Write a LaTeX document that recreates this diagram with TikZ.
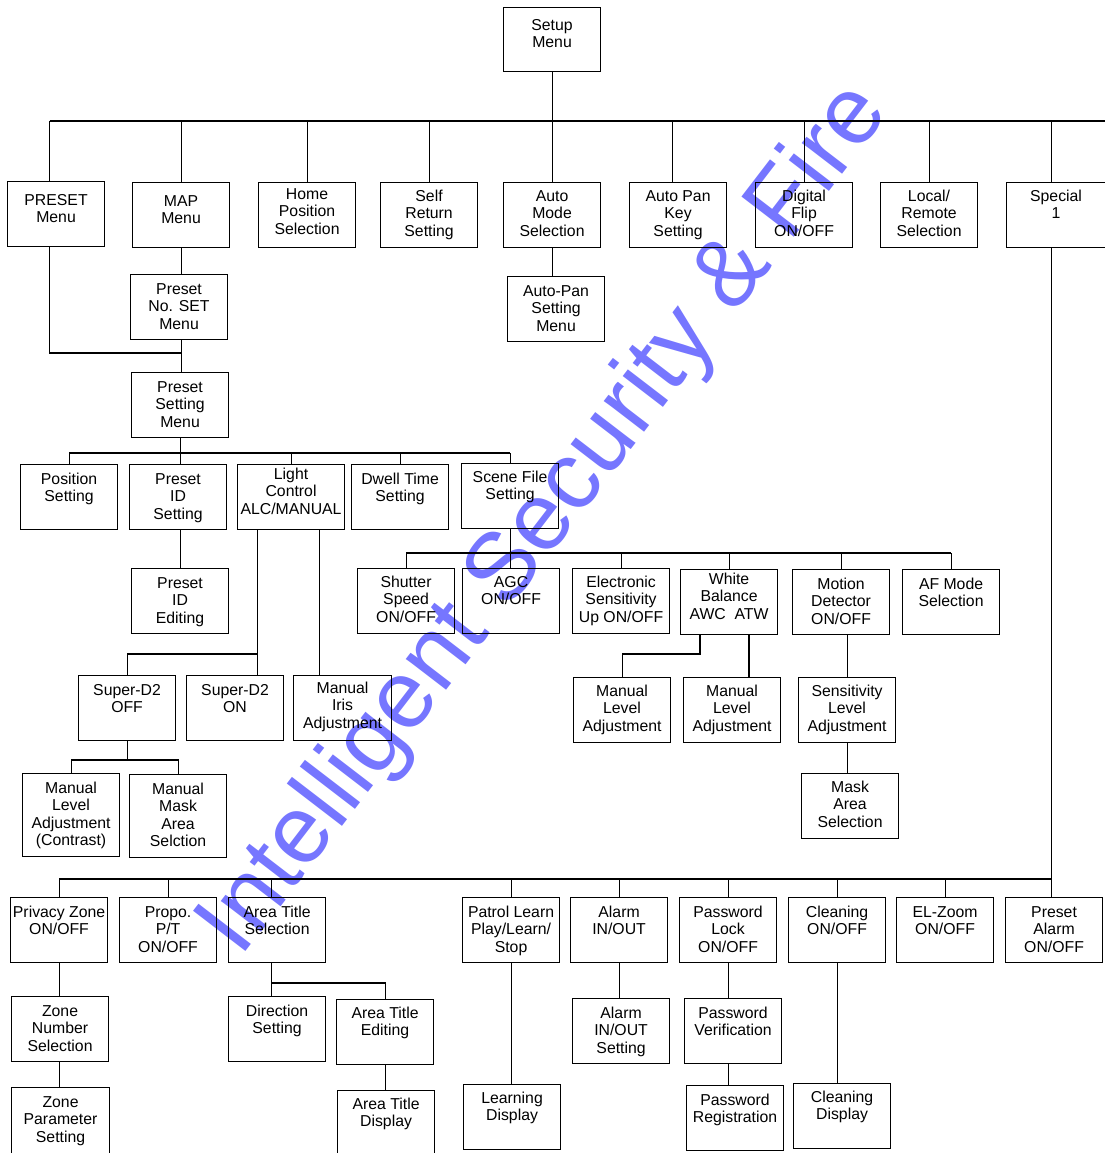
\documentclass[tikz,border=0pt]{standalone}
\usepackage{fontspec}
\setmainfont{Liberation Sans}
\definecolor{markblue}{RGB}{118,118,255}
\begin{document}
\begin{tikzpicture}[x=1pt, y=-1pt,
    menu/.style={draw, line width=1.1pt, align=center, anchor=north west,
      inner xsep=1pt, inner ysep=0pt, minimum width=97pt,
      font=\fontsize{15.8pt}{17.5pt}\selectfont},
    two/.style={text height=37pt, text depth=28pt},
    three/.style={text height=54.5pt, text depth=10.5pt},
    hitwo/.style={text height=36pt, text depth=29pt},
    hithree/.style={text height=53.5pt, text depth=11.5pt},
    link/.style={line width=1.1pt}]
  \useasboundingbox (0,0) rectangle (1104,1153);
  \node[rotate=52.5, text=markblue, font=\fontsize{96pt}{96pt}\selectfont] (mark) at (546,520) {Intelligent Security \& Fire};

  \node[menu, text height=40pt, text depth=24pt] (setup) at (503,7) {Setup\\Menu};
  \node[menu, text height=41pt, text depth=24pt] (preset) at (7,181) {PRESET\\Menu};
  \node[menu, text height=41pt, text depth=24pt] (map) at (132,182) {MAP\\Menu};
  \node[menu, text height=51.5pt, text depth=13.5pt] (home) at (258,182) {Home\\Position\\Selection};
  \node[menu, hithree] (selfret) at (380,182) {Self\\Return\\Setting};
  \node[menu, hithree] (automode) at (503,182) {Auto\\Mode\\Selection};
  \node[menu, hithree] (autopan) at (629,182) {Auto Pan\\Key\\Setting};
  \node[menu, hithree] (dflip) at (755,182) {Digital\\Flip\\ON/OFF};
  \node[menu, hithree] (local) at (880,182) {Local/\\Remote\\Selection};
  \node[menu, hitwo, minimum width=99pt] (special) at (1006,182) {Special\\1};

  \node[menu, three] (presetno) at (130,274) {Preset\\No. SET\\Menu};
  \node[menu, three] (autopanset) at (507,276) {Auto-Pan\\Setting\\Menu};
  \node[menu, three] (presetset) at (131,372) {Preset\\Setting\\Menu};

  \node[menu, two] (position) at (20,464) {Position\\Setting};
  \node[menu, three] (presetid) at (129,464) {Preset\\ID\\Setting};
  \node[menu, minimum width=107pt, text height=49.5pt, text depth=15.5pt] (light) at (237,464) {Light\\Control\\ALC/MANUAL};
  \node[menu, two] (dwell) at (351,464) {Dwell Time\\Setting};
  \node[menu, hitwo] (scene) at (461,463) {Scene File\\Setting};
  \node[menu, three] (presetided) at (131,568) {Preset\\ID\\Editing};

  \node[menu, hithree] (shutter) at (357,568) {Shutter\\Speed\\ON/OFF};
  \node[menu, hitwo] (agc) at (462,568) {AGC\\ON/OFF};
  \node[menu, hithree] (elec) at (572,568) {Electronic\\Sensitivity\\Up ON/OFF};
  \node[menu, text height=49.5pt, text depth=15.5pt] (white) at (680,569) {White\\Balance\\AWC\ \ ATW};
  \node[menu, three] (motion) at (792,569) {Motion\\Detector\\ON/OFF};
  \node[menu, two] (afmode) at (902,569) {AF Mode\\Selection};

  \node[menu, two] (sdoff) at (78,675) {Super-D2\\OFF};
  \node[menu, two] (sdon) at (186,675) {Super-D2\\ON};
  \node[menu, minimum width=98pt, text height=52.5pt, text depth=12.5pt] (iris) at (293,675) {Manual\\Iris\\Adjustment};
  \node[menu, hithree] (wbman1) at (573,677) {Manual\\Level\\Adjustment};
  \node[menu, hithree] (wbman2) at (683,677) {Manual\\Level\\Adjustment};
  \node[menu, hithree] (sens) at (798,677) {Sensitivity\\Level\\Adjustment};
  \node[menu, hithree] (mask) at (801,773) {Mask\\Area\\Selection};
  \node[menu, text height=72pt, text depth=11pt] (contrast) at (22,773) {Manual\\Level\\Adjustment\\(Contrast)};
  \node[menu, text height=72pt, text depth=11pt] (manmask) at (129,774) {Manual\\Mask\\Area\\Selction};

  \node[menu, two] (privacy) at (10,897) {Privacy Zone\\ON/OFF};
  \node[menu, three] (propo) at (119,897) {Propo.\\P/T\\ON/OFF};
  \node[menu, two] (areasel) at (228,897) {Area Title\\Selection};
  \node[menu, three] (patrol) at (462,897) {Patrol Learn\\Play/Learn/\\Stop};
  \node[menu, two] (alarm) at (570,897) {Alarm\\IN/OUT};
  \node[menu, three] (pwlock) at (679,897) {Password\\Lock\\ON/OFF};
  \node[menu, two] (cleaning) at (788,897) {Cleaning\\ON/OFF};
  \node[menu, two] (elzoom) at (896,897) {EL-Zoom\\ON/OFF};
  \node[menu, three] (presetalarm) at (1005,897) {Preset\\Alarm\\ON/OFF};

  \node[menu, three] (zonenum) at (11,996) {Zone\\Number\\Selection};
  \node[menu, minimum width=98pt, text height=54.5pt, text depth=20.5pt] (zoneparam) at (11,1087) {Zone\\Parameter\\Setting};
  \node[menu, two] (direction) at (228,996) {Direction\\Setting};
  \node[menu, hitwo] (areaedit) at (336,999) {Area Title\\Editing};
  \node[menu, text height=36pt, text depth=39pt] (areadisp) at (337,1090) {Area Title\\Display};
  \node[menu, hitwo] (learning) at (463,1084) {Learning\\Display};
  \node[menu, three] (alarmset) at (572,998) {Alarm\\IN/OUT\\Setting};
  \node[menu, two] (pwverif) at (684,998) {Password\\Verification};
  \node[menu, two] (pwreg) at (686,1085) {Password\\Registration};
  \node[menu, hitwo] (cleandisp) at (793,1083) {Cleaning\\Display};

  % bus lines
  \coordinate (topbus) at (0,121);
  \coordinate (presetbend) at (0,353);
  \coordinate (setbus) at (0,453);
  \coordinate (scenebus) at (0,553);
  \coordinate (lightbus) at (0,654);
  \coordinate (offbus) at (0,760);
  \coordinate (lowbus) at (0,879);
  \coordinate (areabus) at (0,983);
  \coordinate (presetjoin) at ([xshift=-6.5pt]preset.north);
  \coordinate (autopanjoin) at ([xshift=-5.5pt]autopan.north);
  \coordinate (specialjoin) at ([xshift=-4.5pt]special.north);
  \coordinate (areajoin) at ([xshift=-5.5pt]areasel.north);
  \coordinate (lightleft) at ([xshift=20.5pt]light.south west);
  \coordinate (lightright) at ([xshift=82.5pt]light.south west);
  \coordinate (whiteleft) at ([xshift=20pt]white.south west);
  \coordinate (whiteright) at ([xshift=69pt]white.south west);

  \draw[link] (setup) -- (automode);
  \draw[link] (automode) -- (autopanset.north -| automode.south);
  \draw[link] (presetjoin |- topbus) -- (special.north east |- topbus);
  \foreach \n in {presetjoin,map.north,home.north,selfret.north,autopanjoin,dflip.north,local.north,specialjoin}
    \draw[link] (\n) -- (\n |- topbus);

  \draw[link] (presetjoin |- preset.south) |- (presetbend -| map.south);
  \draw[link] (map.south) -- (map.south |- presetno.north);
  \draw[link] (map.south |- presetno.south) -- (map.south |- presetset.north);

  \draw[link] (presetset.south) -- (presetset.south |- presetid.north);
  \draw[link] (position.north |- setbus) -- (scene.north |- setbus);
  \foreach \n in {position,light,dwell,scene}
    \draw[link] (\n.north) -- (\n.north |- setbus);
  \draw[link] (presetset.south |- presetid.south) -- (presetset.south |- presetided.north);

  \draw[link] (lightleft) -- (lightleft |- sdon.north);
  \draw[link] (lightleft |- lightbus) -| (sdoff.north);
  \draw[link] (lightright) -- (lightright |- iris.north);
  \draw[link] (sdoff.south) -- (sdoff.south |- offbus);
  \draw[link] (contrast.north) |- (offbus -| manmask.north) -- (manmask.north);

  \draw[link] (scene.south) -- (scene.south |- agc.north);
  \draw[link] (shutter.north |- scenebus) -- (afmode.north |- scenebus);
  \foreach \n in {shutter,elec,white,motion,afmode}
    \draw[link] (\n.north) -- (\n.north |- scenebus);
  \draw[link] (whiteleft) |- (lightbus -| wbman1.north) -- (wbman1.north);
  \draw[link] (whiteright) -- (whiteright |- wbman2.north);
  \draw[link] (sens.north |- motion.south) -- (sens.north);
  \draw[link] (sens.south) -- (sens.south |- mask.north);

  \draw[link] (specialjoin |- special.south) -- (specialjoin |- presetalarm.north);
  \draw[link] (privacy.north |- lowbus) -- (specialjoin |- lowbus);
  \foreach \n in {privacy.north,propo.north,areajoin,patrol.north,alarm.north,pwlock.north,cleaning.north,elzoom.north}
    \draw[link] (\n) -- (\n |- lowbus);

  \draw[link] (privacy.south) -- (privacy.south |- zonenum.north);
  \draw[link] (privacy.south |- zonenum.south) -- (privacy.south |- zoneparam.north);
  \draw[link] (areajoin |- areasel.south) |- (areabus -| areaedit.north) -- (areaedit.north);
  \draw[link] (areajoin |- areabus) -- (areajoin |- direction.north);
  \draw[link] (areaedit.south) -- (areaedit.south |- areadisp.north);
  \draw[link] (patrol.south) -- (patrol.south |- learning.north);
  \draw[link] (alarm.south) -- (alarm.south |- alarmset.north);
  \draw[link] (pwlock.south) -- (pwlock.south |- pwverif.north);
  \draw[link] (pwlock.south |- pwverif.south) -- (pwlock.south |- pwreg.north);
  \draw[link] (cleaning.south) -- (cleaning.south |- cleandisp.north);
\end{tikzpicture}
\end{document}
